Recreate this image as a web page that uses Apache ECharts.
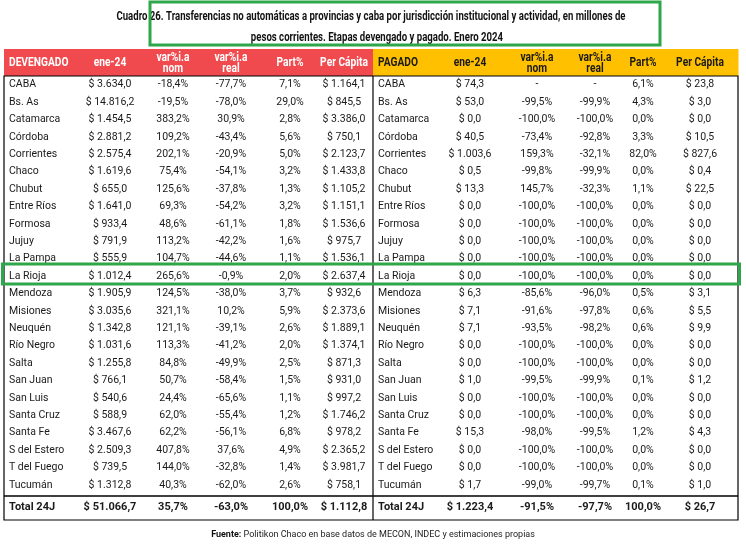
<!DOCTYPE html>
<html><head><meta charset="utf-8">
<script src="https://cdn.jsdelivr.net/npm/echarts@6/dist/echarts.min.js"></script>
<style>html,body{margin:0;padding:0;background:#fff}#c{width:746px;height:553px}</style>
</head><body><div id="c"></div>
<script>
// provinces (rows)
const provincias = ['CABA','Bs. As','Catamarca','Córdoba','Corrientes','Chaco','Chubut','Entre Ríos','Formosa','Jujuy','La Pampa','La Rioja','Mendoza','Misiones','Neuquén','Río Negro','Salta','San Juan','San Luis','Santa Cruz','Santa Fe','S del Estero','T del Fuego','Tucumán','Total 24J'];

// devengado
const devEne = [3634.0,14816.2,1454.5,2881.2,2575.4,1619.6,655.0,1641.0,933.4,791.9,555.9,1012.4,1905.9,3035.6,1342.8,1031.6,1255.8,766.1,540.6,588.9,3467.6,2509.3,739.5,1312.8,51066.7];
const devNom = [-18.4,-19.5,383.2,109.2,202.1,75.4,125.6,69.3,48.6,113.2,104.7,265.6,124.5,321.1,121.1,113.3,84.8,50.7,24.4,62.0,62.2,407.8,144.0,40.3,35.7];
const devReal = [-77.7,-78.0,30.9,-43.4,-20.9,-54.1,-37.8,-54.2,-61.1,-42.2,-44.6,-0.9,-38.0,10.2,-39.1,-41.2,-49.9,-58.4,-65.6,-55.4,-56.1,37.6,-32.8,-62.0,-63.0];
const devPart = [7.1,29.0,2.8,5.6,5.0,3.2,1.3,3.2,1.8,1.6,1.1,2.0,3.7,5.9,2.6,2.0,2.5,1.5,1.1,1.2,6.8,4.9,1.4,2.6,100.0];
const devPc = [1164.1,845.5,3386.0,750.1,2123.7,1433.8,1105.2,1151.1,1536.6,975.7,1536.1,2637.4,932.6,2373.6,1889.1,1374.1,871.3,931.0,997.2,1746.2,978.2,2365.2,3981.7,758.1,1112.8];

// pagado
const pagEne = [74.3,53.0,0.0,40.5,1003.6,0.5,13.3,0.0,0.0,0.0,0.0,0.0,6.3,7.1,7.1,0.0,0.0,1.0,0.0,0.0,15.3,0.0,0.0,1.7,1223.4];
const pagNom = [null,-99.5,-100.0,-73.4,159.3,-99.8,145.7,-100.0,-100.0,-100.0,-100.0,-100.0,-85.6,-91.6,-93.5,-100.0,-100.0,-99.5,-100.0,-100.0,-98.0,-100.0,-100.0,-99.0,-91.5];
const pagReal = [null,-99.9,-100.0,-92.8,-32.1,-99.9,-32.3,-100.0,-100.0,-100.0,-100.0,-100.0,-96.0,-97.8,-98.2,-100.0,-100.0,-99.9,-100.0,-100.0,-99.5,-100.0,-100.0,-99.7,-97.7];
const pagPart = [6.1,4.3,0.0,3.3,82.0,0.0,1.1,0.0,0.0,0.0,0.0,0.0,0.5,0.6,0.6,0.0,0.0,0.1,0.0,0.0,1.2,0.0,0.0,0.1,100.0];
const pagPc = [23.8,3.0,0.0,10.5,827.6,0.4,22.5,0.0,0.0,0.0,0.0,0.0,3.1,5.5,9.9,0.0,0.0,1.2,0.0,0.0,4.3,0.0,0.0,1.0,26.7];

const headL = ['DEVENGADO','ene-24','var%i.a\nnom','var%i.a\nreal','Part%','Per Cápita'];
const headR = ['PAGADO','ene-24','var%i.a\nnom','var%i.a\nreal','Part%','Per Cápita'];

function num(v) {
  const p = Math.abs(v).toFixed(1).split('.');
  const ent = p[0].replace(/\B(?=(\d{3})+(?!\d))/g, '.');
  return (v < 0 ? '-' : '') + ent + ',' + p[1];
}
const money = v => '$ ' + num(v);
const pct = v => v === null ? '-' : num(v) + '%';

// layout
const H = 471, HEAD = 27, ROW = 17.4;
function rowBand(r) {
  if (r === 0) return [0, HEAD];
  if (r <= 24) return [HEAD + (r - 1) * ROW, HEAD + r * ROW];
  return [HEAD + 24 * ROW, H];
}

function buildCells(head, cols) {
  const cells = [];
  head.forEach((h, c) => cells.push({ value: [c, 0], txt: h }));
  provincias.forEach((p, i) => {
    const vals = [p].concat(cols.map(f => f(i)));
    vals.forEach((t, c) => cells.push({ value: [c, i + 1], txt: t }));
  });
  return cells;
}

const cellsL = buildCells(headL, [i => money(devEne[i]), i => pct(devNom[i]), i => pct(devReal[i]), i => pct(devPart[i]), i => money(devPc[i])]);
const cellsR = buildCells(headR, [i => money(pagEne[i]), i => pct(pagNom[i]), i => pct(pagReal[i]), i => pct(pagPart[i]), i => money(pagPc[i])]);

function tableSeries(idx, cells, edges, centers, headBg, headFg) {
  return {
    type: 'custom', xAxisIndex: idx, yAxisIndex: idx, data: cells, silent: true,
    renderItem: function (params, api) {
      const c = api.value(0), r = api.value(1);
      const cell = cells[params.dataIndex];
      const band = rowBand(r);
      const p0 = api.coord([edges[c], band[0]]);
      const p1 = api.coord([edges[c + 1], band[1]]);
      const ym = (p0[1] + p1[1]) / 2;
      const x = c === 0 ? api.coord([5, 0])[0] : api.coord([centers[c], 0])[0];
      const children = [];
      if (r === 0) {
        children.push({ type: 'rect', shape: { x: p0[0], y: p0[1], width: p1[0] - p0[0] + 0.5, height: p1[1] - p0[1] }, style: { fill: headBg } });
      }
      children.push({
        type: 'text', x: x, y: ym + (r === 0 ? 0.5 : 0),
        scaleX: r === 0 ? 0.85 : 1, originX: 0,
        style: {
          text: cell.txt, align: c === 0 ? 'left' : 'center', verticalAlign: 'middle',
          fill: r === 0 ? headFg : '#1a1a1a',
          font: r === 0 ? 'bold 12px Roboto' : (r === 25 ? 'bold 11px Roboto' : '10.5px Roboto'),
          lineHeight: 11
        }
      });
      return { type: 'group', children: children };
    }
  };
}

const chart = echarts.init(document.getElementById('c'));
const axisOff = { show: false };
const titleStyle = { font: 'bold 12px Roboto', fill: '#111', align: 'center', verticalAlign: 'middle' };
chart.setOption({
  animation: false,
  grid: [
    { left: 4, top: 49, width: 369, height: H },
    { left: 373, top: 49, width: 365, height: H }
  ],
  xAxis: [
    Object.assign({ type: 'value', min: 0, max: 369, gridIndex: 0 }, axisOff),
    Object.assign({ type: 'value', min: 0, max: 365, gridIndex: 1 }, axisOff)
  ],
  yAxis: [
    Object.assign({ type: 'value', min: 0, max: H, inverse: true, gridIndex: 0 }, axisOff),
    Object.assign({ type: 'value', min: 0, max: H, inverse: true, gridIndex: 1 }, axisOff)
  ],
  series: [
    tableSeries(0, cellsL, [0, 66, 140, 200, 258, 313, 369], [0, 106, 169, 227, 286, 340], '#f04a4e', '#ffffff'),
    tableSeries(1, cellsR, [0, 52, 130, 195, 250, 297, 365], [0, 97, 164, 222, 270, 327], '#ffc000', '#1a1a1a')
  ],
  graphic: [
    { type: 'text', x: 371, y: 17, scaleX: 0.8, originX: 0, style: Object.assign({ text: 'Cuadro 26. Transferencias no automáticas a provincias y caba por jurisdicción institucional y actividad, en millones de' }, titleStyle) },
    { type: 'text', x: 377, y: 38, scaleX: 0.8, originX: 0, style: Object.assign({ text: 'pesos corrientes. Etapas devengado y pagado. Enero 2024' }, titleStyle) },
    { type: 'rect', shape: { x: 150, y: 2, width: 510, height: 43 }, style: { fill: 'none', stroke: '#2ea64a', lineWidth: 3 }, z: 10 },
    { type: 'rect', shape: { x: 4, y: 76, width: 734, height: 444 }, style: { fill: 'none', stroke: '#000', lineWidth: 1.2 }, z: 10 },
    { type: 'line', shape: { x1: 373, y1: 76, x2: 373, y2: 520 }, style: { stroke: '#000', lineWidth: 1.2 }, z: 10 },
    { type: 'line', shape: { x1: 4, y1: 496, x2: 738, y2: 496 }, style: { stroke: '#000', lineWidth: 1.5 }, z: 10 },
    { type: 'rect', shape: { x: 2.5, y: 264, width: 737, height: 20 }, style: { fill: 'none', stroke: '#2ea64a', lineWidth: 3 }, z: 10 },
    { type: 'text', left: 'center', top: 530, style: { text: '{b|Fuente:} Politikon Chaco en base datos de MECON, INDEC y estimaciones propias', font: '9px Roboto', fill: '#222', rich: { b: { font: 'bold 9px Roboto', fill: '#111' } } } }
  ]
});
</script>
</body></html>
